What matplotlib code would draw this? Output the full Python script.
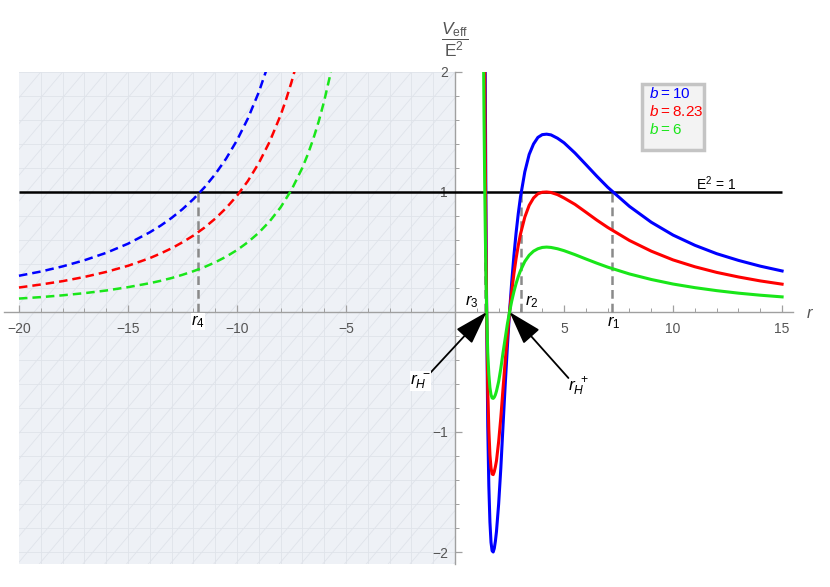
import numpy as np
import matplotlib
matplotlib.use("Agg")
import matplotlib.pyplot as plt
from matplotlib.patches import Rectangle
from matplotlib.collections import LineCollection
from matplotlib.ticker import MultipleLocator

plt.rcParams['font.family'] = ['Liberation Sans', 'DejaVu Sans']
plt.rcParams['mathtext.fontset'] = 'custom'
plt.rcParams['mathtext.rm'] = 'Liberation Sans'
plt.rcParams['mathtext.it'] = 'Liberation Sans:italic'
plt.rcParams['mathtext.bf'] = 'Liberation Sans:bold'

# ---------------- data ----------------
b_labels = ['$b$\u2009=\u200910', '$b$\u2009=\u20098.23', '$b$\u2009=\u20096']
colors = ['#0000ff', '#ff0000', '#19e619']

# negative-r branches (dashed)
r_neg_blue = [-20, -19, -18, -17, -16, -15, -14, -13.5, -13, -12.5, -12, -11.5, -11,
              -10.5, -10, -9.5, -9, -8.5]
v_neg_blue = [0.302, 0.337, 0.380, 0.431, 0.493, 0.569, 0.664, 0.720, 0.784, 0.857,
              0.941, 1.037, 1.148, 1.278, 1.431, 1.613, 1.832, 2.097]

r_neg_red = [-20, -19, -18, -17, -16, -15, -14, -13.5, -13, -12.5, -12, -11.5, -11,
             -10.5, -10, -9.5, -9, -8.5, -8, -7.75, -7.5, -7.25]
v_neg_red = [0.204, 0.229, 0.257, 0.292, 0.334, 0.385, 0.449, 0.488, 0.531, 0.581,
             0.637, 0.702, 0.778, 0.866, 0.969, 1.092, 1.241, 1.420, 1.640, 1.770,
             1.916, 2.079]

r_neg_green = [-20, -19, -18, -17, -16, -15, -14, -13.5, -13, -12.5, -12, -11.5, -11,
               -10.5, -10, -9.5, -9, -8.5, -8, -7.5, -7, -6.75, -6.5, -6.25, -6,
               -5.75, -5.5]
v_neg_green = [0.112, 0.124, 0.139, 0.157, 0.179, 0.207, 0.240, 0.260, 0.283, 0.310,
               0.340, 0.374, 0.414, 0.461, 0.516, 0.582, 0.661, 0.756, 0.872, 1.018,
               1.203, 1.315, 1.443, 1.590, 1.759, 1.956, 2.187]

# positive-r branches (solid)
r_pos = [1.30, 1.33, 1.36, 1.39, 1.42, 1.45, 1.50, 1.55, 1.60, 1.65, 1.70, 1.75, 1.80,
         1.85, 1.90, 2.00, 2.10, 2.20, 2.30, 2.40, 2.50, 2.60, 2.70, 2.80, 2.90, 3.00,
         3.20, 3.40, 3.60, 3.80, 4.00, 4.20, 4.40, 4.70, 5.00, 5.50, 6.00, 6.50, 7.00,
         8.00, 9.00, 10.0, 11.0, 12.0, 13.0, 14.0, 15.0]
v_pos_blue = [6.30, 4.49, 3.00, 1.78, 0.80, 0.00, -0.95, -1.45, -1.75, -1.92, -1.99,
              -2.00, -1.97, -1.91, -1.83, -1.60, -1.30, -0.95, -0.61, -0.29, 0.00,
              0.252, 0.470, 0.659, 0.820, 0.957, 1.168, 1.313, 1.400, 1.455, 1.478,
              1.482, 1.476, 1.448, 1.410, 1.325, 1.229, 1.132, 1.040, 0.880, 0.748,
              0.641, 0.556, 0.486, 0.430, 0.382, 0.342]
v_pos_red = [4.27, 3.04, 2.03, 1.21, 0.54, 0.00, -0.64, -0.98, -1.19, -1.30, -1.35,
             -1.355, -1.33, -1.29, -1.24, -1.08, -0.88, -0.64, -0.41, -0.20, 0.00,
             0.170, 0.319, 0.446, 0.555, 0.648, 0.791, 0.889, 0.950, 0.985, 0.998,
             1.000, 0.996, 0.978, 0.950, 0.897, 0.832, 0.766, 0.705, 0.596, 0.507,
             0.434, 0.377, 0.330, 0.292, 0.259, 0.232]
v_pos_green = [2.27, 1.62, 1.08, 0.64, 0.29, 0.00, -0.34, -0.52, -0.63, -0.69, -0.716,
               -0.72, -0.71, -0.69, -0.66, -0.58, -0.47, -0.34, -0.22, -0.10, 0.00,
               0.091, 0.169, 0.237, 0.295, 0.344, 0.421, 0.473, 0.507, 0.527, 0.538,
               0.541, 0.538, 0.527, 0.511, 0.478, 0.442, 0.407, 0.374, 0.317, 0.271,
               0.233, 0.203, 0.178, 0.157, 0.140, 0.126]

E2_level = 1.0
r_marks = {'$r_1$': 7.2, '$r_2$': 3.02, '$r_3$': 1.38, '$r_4$': -11.8}
rH_minus = 1.45
rH_plus = 2.50

x_ticks = [-20, -15, -10, -5, 5, 10, 15]
y_ticks = [-2, -1, 1, 2]

# ---------------- figure ----------------
W, H = 830, 587
fig = plt.figure(figsize=(W / 100, H / 100), dpi=100)
ax = fig.add_axes([3.7 / W, 1 - 564 / H, (793 - 3.7) / W, (564 - 72) / H])
xmin, xmax, ymin, ymax = -20.7, 15.5, -2.1, 2.0
ax.set_xlim(xmin, xmax)
ax.set_ylim(ymin, ymax)
ax.patch.set_alpha(0)

# shaded region r<0
shade = Rectangle((-20, ymin), 20, ymax - ymin, facecolor='#eef1f6',
                  edgecolor='none', zorder=0)
ax.add_patch(shade)
for gx in np.arange(-19, 0, 1.0):
    ax.plot([gx, gx], [ymin, ymax], color='#dfe3ea', lw=0.6, zorder=0.5)
for gy in np.arange(-2.0, 2.01, 0.2):
    ax.plot([-20, 0], [gy, gy], color='#dfe3ea', lw=0.6, zorder=0.5)
slope = 0.215
segs = []
for x0 in np.arange(-20 - (ymax - ymin) / slope, 1, 1.0):
    segs.append([(x0, ymin), (x0 + (ymax - ymin) / slope, ymax)])
lc = LineCollection(segs, colors='#dfe3ea', linewidths=0.6, zorder=0.5)
ax.add_collection(lc)
lc.set_clip_path(shade)

# spines
for s in ['top', 'right']:
    ax.spines[s].set_visible(False)
ax.spines['left'].set_position(('data', 0))
ax.spines['bottom'].set_position(('data', 0))
for s in ['left', 'bottom']:
    ax.spines[s].set_color('#a0a0a0')
    ax.spines[s].set_linewidth(1.0)
    ax.spines[s].set_zorder(1)

ax.set_xticks(x_ticks)
ax.set_yticks(y_ticks)
ax.xaxis.set_minor_locator(MultipleLocator(1))
ax.yaxis.set_minor_locator(MultipleLocator(0.2))
ax.tick_params(which='both', direction='in', color='#a0a0a0', labelcolor='#555555',
               labelsize=10)
ax.tick_params(which='major', length=5, width=0.9)
ax.tick_params(axis='x', which='major', pad=7)
ax.tick_params(axis='y', which='major', pad=5)
ax.tick_params(which='minor', length=3, width=0.7)

# E^2 = 1 line
ax.hlines(E2_level, -20, 15, colors='black', lw=1.8, zorder=2)
ax.text(11.97, E2_level + 0.067, 'E$^2$ = 1', fontsize=10, ha='center', va='center',
        color='black')

# marker dashed lines
for lab, rv in r_marks.items():
    ax.vlines(rv, 0, E2_level, colors='#8a8a8a', lw=1.8, linestyles=(0, (3.5, 2)),
              zorder=2.2)

# curves
negs = [(r_neg_blue, v_neg_blue), (r_neg_red, v_neg_red), (r_neg_green, v_neg_green)]
poss = [v_pos_blue, v_pos_red, v_pos_green]
for (rn, vn), vp, c in zip(negs, poss, colors):
    ax.plot(rn, vn, color=c, lw=1.8, dashes=(3.4, 2.0), zorder=3)
    ax.plot(r_pos, vp, color=c, lw=2.2, zorder=3, solid_joinstyle='round')

# r labels
lab_kw = dict(fontsize=12, ha='center', va='center', zorder=4)
ax.text(r_marks['$r_1$'] + 0.1, -0.09, '$r_1$',
        bbox=dict(facecolor='white', edgecolor='none', pad=0.3), **lab_kw)
ax.text(r_marks['$r_4$'], -0.08, '$r_4$',
        bbox=dict(facecolor='white', edgecolor='none', pad=0.3), **lab_kw)
ax.text(r_marks['$r_3$'] - 0.6, 0.09, '$r_3$', **lab_kw)
ax.text(r_marks['$r_2$'] + 0.5, 0.09, '$r_2$', **lab_kw)

# horizon arrows
ap = dict(arrowstyle='-|>,head_length=1.9,head_width=0.6', color='black', lw=1.3,
          shrinkA=0, shrinkB=0, mutation_scale=11)
ax.annotate('', xy=(rH_minus, 0), xytext=(-1.2, -0.52), arrowprops=ap, zorder=5)
ax.annotate('', xy=(rH_plus, 0), xytext=(5.2, -0.55), arrowprops=ap, zorder=5)
ax.text(-1.6, -0.575, '$r_H^{\\ -}$', fontsize=12.5, ha='center', va='center',
        bbox=dict(facecolor='white', edgecolor='none', pad=0.3), zorder=6)
ax.text(5.64, -0.625, '$r_H^{\\ +}$', fontsize=12.5, ha='center', va='center',
        zorder=6)

# axis labels
fig.text(455 / W, 1 - 40 / H, r'$\dfrac{V_{\mathrm{eff}}}{\mathrm{E}^{2}}$',
         fontsize=12.5, ha='center', va='center', color='#555555')
fig.text(810 / W, 1 - 313 / H, '$r$', fontsize=12, ha='center', va='center',
         color='#555555')

# legend box
fig.patches.append(Rectangle((642 / W, 1 - 150 / H), 62 / W, 66 / H,
                             transform=fig.transFigure, facecolor='#f3f3f3',
                             edgecolor='#c4c4c4', lw=2.5))
for i, (lab, c) in enumerate(zip(b_labels, colors)):
    fig.text(649 / W, 1 - (93 + 18.5 * i) / H, lab, fontsize=11, color=c,
             ha='left', va='center')

fig.savefig('out.png', dpi=100)
